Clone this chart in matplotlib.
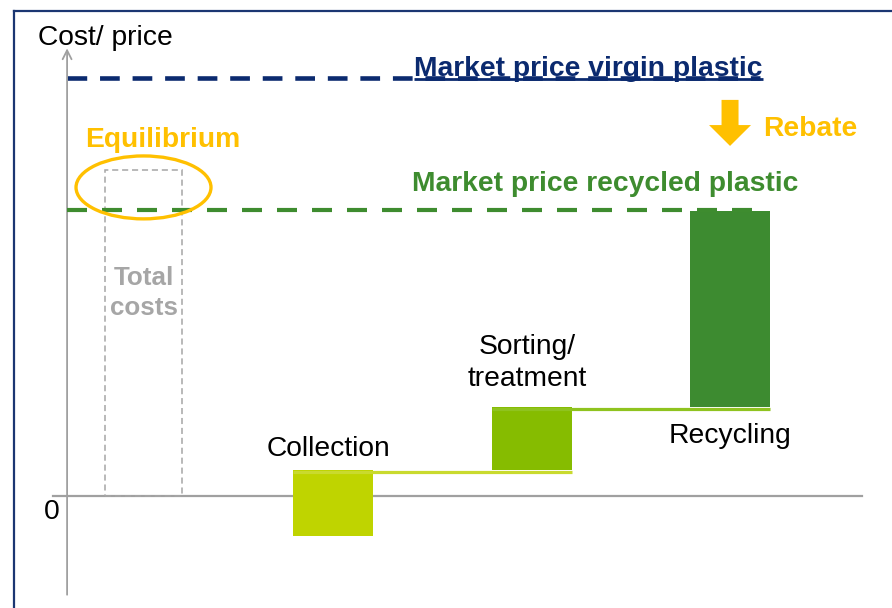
import matplotlib
matplotlib.use("Agg")
from matplotlib import pyplot as plt
from matplotlib.patches import Ellipse, Rectangle
from matplotlib.lines import Line2D

plt.rcParams['font.family'] = ['Liberation Sans', 'DejaVu Sans']

# waterfall steps (schematic cost units)
steps = ['Collection', 'Sorting/\ntreatment', 'Recycling']
step_bottom = [-14, 9, 31]
step_top = [9, 31, 99.5]
step_colors = ['#BFD400', '#86BC00', '#3D8B30']
link_colors = ['#C9DA2E', '#8FC31F']

price_virgin = 146
price_recycled = 100
total_costs = 114

# colours
navy = '#0B2A6F'
green = '#3E8C2F'
orange = '#FFC000'
grey = '#A0A0A0'

fs = 20.3

fig = plt.figure(figsize=(8.92, 6.08), dpi=100)
ax = fig.add_axes([0, 0, 1, 1])
ax.set_xlim(-0.678, 3.816)
ax.set_ylim(-39.16, 173.43)
ax.axis('off')

# frame of the slide
fx = 14 / 892
fy = 1 - 11 / 608
fig.add_artist(Line2D([fx, fx], [0, fy], color='#1B3672', lw=1.6))
fig.add_artist(Line2D([fx, 1], [fy, fy], color='#1B3672', lw=1.6))

# axes
yax = -0.34
ax.annotate('', xy=(yax, 157.5), xytext=(yax, -35.5),
            arrowprops=dict(arrowstyle='->', color=grey, lw=1.3,
                            mutation_scale=16))
ax.plot([-0.411, 3.665], [0, 0], color=grey, lw=1.6, zorder=1)
ax.text(-0.486, 160.0, 'Cost/ price', fontsize=fs, ha='left', va='center')
ax.text(-0.416, -5.7, '0', fontsize=fs, ha='center', va='center')

# market prices
ax.plot([yax, 3.151], [price_virgin, price_virgin], color=navy, lw=3.3,
        linestyle=(0, (4.3, 2.8)), solid_capstyle='butt')
ax.plot([yax, 3.176], [price_recycled, price_recycled], color=green, lw=3.0,
        linestyle=(0, (4.8, 3.6)), solid_capstyle='butt', zorder=3)
t_virgin = ax.text(1.409, 149.4, 'Market price virgin plastic', fontsize=fs,
                   fontweight='bold', color=navy, ha='left', va='center')
ax.text(1.398, 109.1, 'Market price recycled plastic', fontsize=fs,
        fontweight='bold', color=green, ha='left', va='center')

# rebate
ax.arrow(3.0, 138.5, 0, -16.1, width=0.0856, head_width=0.2116,
         head_length=7.3, length_includes_head=True, color=orange, lw=0)
ax.text(3.166, 128.3, 'Rebate', fontsize=fs, fontweight='bold',
        color=orange, ha='left', va='center')

# total costs box + equilibrium
tc_x = 0.045
ax.add_patch(Rectangle((tc_x - 0.194, 0), 0.388, total_costs, fill=False,
                       edgecolor='#A6A6A6', lw=1.1, linestyle=(0, (4, 2.5))))
ax.text(tc_x, 71.0, 'Total\ncosts', fontsize=18.7, fontweight='bold',
        color='#A6A6A6', ha='center', va='center', linespacing=1.3)
ax.add_patch(Ellipse((tc_x, 107.9), 0.68, 22.0, fill=False,
                     edgecolor=orange, lw=2.4, zorder=4))
ax.text(-0.249, 124.4, 'Equilibrium', fontsize=fs, fontweight='bold',
        color=orange, ha='left', va='center')

# waterfall bars
w = 0.403
for i in range(len(steps)):
    xc = i + 1
    ax.bar(xc, step_top[i] - step_bottom[i], bottom=step_bottom[i],
           width=w, color=step_colors[i], zorder=2)
    if i < len(steps) - 1:
        ax.plot([xc - w / 2, xc + 1 + w / 2], [step_top[i] - 0.5] * 2,
                color=link_colors[i], lw=2.3, zorder=3,
                solid_capstyle='butt')

# step labels
ax.text(1 - 0.025, step_top[0] + 7.4, steps[0], fontsize=fs,
        ha='center', va='center')
ax.text(2 - 0.02, step_top[1] + 15.6, steps[1], fontsize=fs,
        ha='center', va='center', linespacing=1.3)
ax.text(3, step_bottom[2] - 10, steps[2], fontsize=fs,
        ha='center', va='center')

# underline for the virgin price label
fig.canvas.draw()
bb = t_virgin.get_window_extent().transformed(ax.transData.inverted())
ax.plot([bb.x0, bb.x1], [145.8, 145.8], color=navy, lw=2.0,
        solid_capstyle='butt', zorder=3)

fig.savefig('out.png', dpi=100)
